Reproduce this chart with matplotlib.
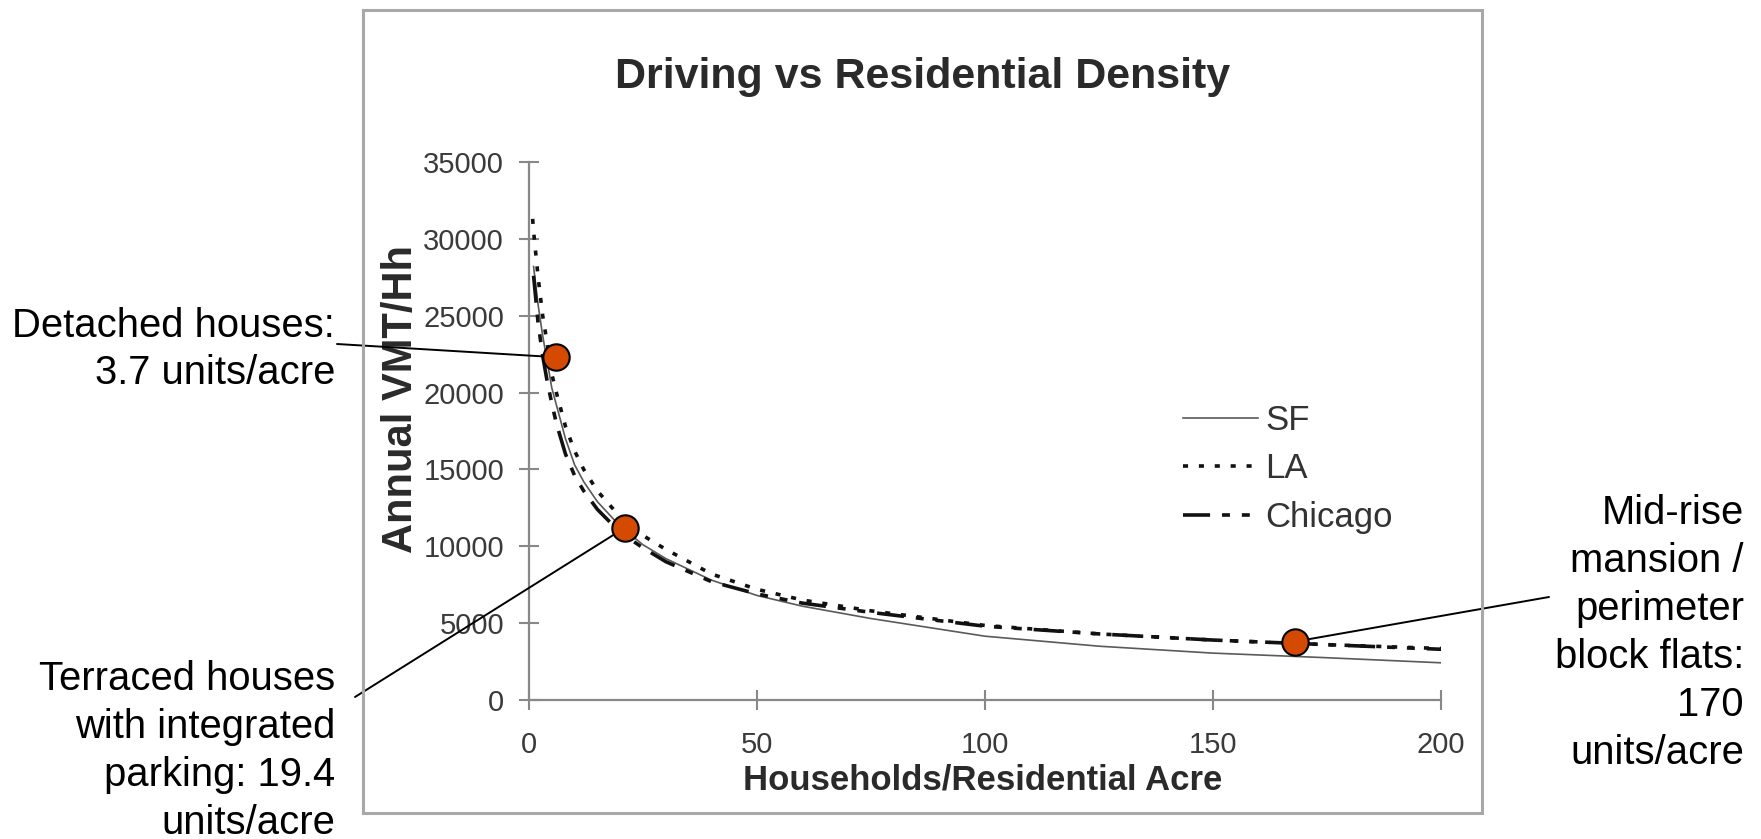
import matplotlib
matplotlib.use("Agg")
import matplotlib.pyplot as plt
from matplotlib.patches import Rectangle

# ---- data ----
sf_x = [1, 2, 3, 4, 5, 6, 8, 10, 12, 15, 20, 25, 30, 40, 50, 60, 75, 100, 125, 150, 175, 200]
sf_y = [28200, 25700, 23700, 22000, 20300, 19200, 17000, 15300, 14200, 12900, 11300, 10100,
        9200, 7800, 6800, 6100, 5300, 4150, 3500, 3050, 2750, 2420]

la_x = [0.8, 1, 2, 3, 4, 5, 6, 8, 10, 12, 15, 20, 25, 30, 40, 50, 60, 75, 100, 125, 150, 175, 200]
la_y = [31300, 30500, 27500, 25000, 23200, 21200, 20000, 17800, 16200, 15000, 13600, 11900,
        10700, 9800, 8200, 7200, 6500, 5800, 4850, 4300, 3900, 3600, 3350]

chi_x = [1, 2, 3, 4, 5, 6, 8, 10, 12, 15, 20, 25, 30, 40, 50, 60, 75, 100, 125, 150, 175, 200]
chi_y = [27600, 24500, 22400, 20700, 19300, 18000, 16000, 14600, 13600, 12400, 10900, 9900,
         9000, 7700, 6900, 6300, 5700, 4800, 4300, 3900, 3600, 3300]

series_labels = ["SF", "LA", "Chicago"]

point_x = [6.0, 21.0, 168.0]
point_y = [22300, 11200, 3800]
point_labels = ["Detached houses:\n3.7 units/acre",
                "Terraced houses\nwith integrated\nparking: 19.4\nunits/acre",
                "Mid-rise\nmansion /\nperimeter\nblock flats:\n170\nunits/acre"]

x_ticks = [0, 50, 100, 150, 200]
y_ticks = [0, 5000, 10000, 15000, 20000, 25000, 30000, 35000]

title = "Driving vs Residential Density"
xlabel = "Households/Residential Acre"
ylabel = "Annual VMT/Hh"

# ---- figure ----
W, H = 1761, 839
fig = plt.figure(figsize=(W / 100, H / 100), dpi=100)
plt.rcParams['font.family'] = ['Liberation Sans', 'DejaVu Sans']

# outer frame of the embedded chart
fig.patches.append(Rectangle((363 / W, 1 - 813 / H), (1482 - 363) / W, (813 - 10) / H,
                             transform=fig.transFigure, fill=False,
                             edgecolor='#a8a8a8', linewidth=2.2, zorder=0))

ax = fig.add_axes([529 / W, 1 - 700 / H, (1441 - 529) / W, (700 - 162) / H])
ax.set_xlim(0, 200)
ax.set_ylim(0, 35000)

ax.plot(sf_x, sf_y, color='#5a5a5a', lw=1.2, label=series_labels[0], zorder=3)
ax.plot(la_x, la_y, color='#111111', lw=2.6, linestyle=(0, (1.4, 3.0)),
        label=series_labels[1], zorder=3)
ax.plot(chi_x, chi_y, color='#111111', lw=2.6, linestyle=(0, (7.5, 3.3, 2.2, 3.3, 2.2, 3.3)),
        label=series_labels[2], zorder=3)

for s in ['top', 'right']:
    ax.spines[s].set_visible(False)
for s in ['left', 'bottom']:
    ax.spines[s].set_color('#888888')
    ax.spines[s].set_linewidth(1.6)

ax.set_xticks(x_ticks)
ax.set_yticks(y_ticks)
ax.tick_params(axis='both', direction='inout', length=14, width=1.5, color='#888888',
               labelsize=21, labelcolor='#3a3a3a')
ax.tick_params(axis='y', pad=11)
ax.tick_params(axis='x', pad=15)

ax.set_xlabel(xlabel, fontsize=25, fontweight='bold', color='#2a2a2a')
ax.xaxis.set_label_coords(0.498, -0.148)
ax.xaxis.label.set_va('center')
ax.set_ylabel(ylabel, fontsize=30, fontweight='bold', color='#2a2a2a')
ax.yaxis.set_label_coords(-0.140, 0.559)
ax.yaxis.label.set_va('center')

fig.text(923 / W, 1 - 77 / H, title, fontsize=31, fontweight='bold', color='#2a2a2a',
         ha='center', va='center')

leg = ax.legend(loc='center left', bbox_to_anchor=(1183 / W, 1 - 469 / H),
                bbox_transform=fig.transFigure, frameon=False, fontsize=25,
                handlelength=2.15, handletextpad=0.22, labelspacing=0.45,
                borderpad=0, borderaxespad=0)
for t in leg.get_texts():
    t.set_color('#333333')

# highlighted points
ax.plot(point_x, point_y, linestyle='none', marker='o', markersize=19,
        markerfacecolor='#D44A00', markeredgecolor='black', markeredgewidth=1.5,
        zorder=6, clip_on=False)

# annotation lines and texts
line_starts = [(337 / W, 1 - 344 / H), (355 / W, 1 - 697 / H), (1549 / W, 1 - 597 / H)]
text_pos = [(335 / W, 1 - 349.5 / H), (335 / W, 1 - 751 / H), (1744 / W, 1 - 633 / H)]
for (px, py), start, tpos, lab in zip(zip(point_x, point_y), line_starts, text_pos, point_labels):
    ax.annotate('', xy=(px, py), xycoords='data', xytext=start, textcoords='figure fraction',
                arrowprops=dict(arrowstyle='-', color='black', lw=1.4, shrinkA=0, shrinkB=0),
                zorder=5, annotation_clip=False)
    fig.text(tpos[0], tpos[1], lab, fontsize=28.8, color='black', ha='right', va='center',
             multialignment='right', linespacing=1.33)

fig.savefig('out.png', dpi=100, facecolor='white')
